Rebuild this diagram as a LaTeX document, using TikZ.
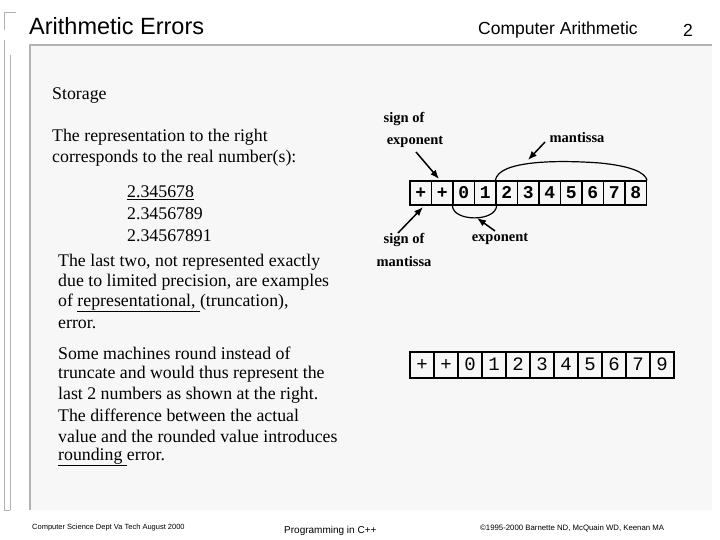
\documentclass[tikz,border=0pt]{standalone}
\usepackage{fontspec}
\usetikzlibrary{arrows.meta}
\setmainfont{Liberation Serif}
\newfontfamily\hel{Liberation Sans}
\newfontfamily\cour{Liberation Mono}
\begin{document}
\begin{tikzpicture}[x=1pt,y=-1pt,
  txt/.style={anchor=west,inner sep=0pt,font=\fontsize{17.8}{18}\selectfont},
  lab/.style={inner sep=0pt,font=\fontsize{14.5}{14}\selectfont\bfseries},
  arr/.style={-{Latex[length=9pt,width=7pt]},line width=1.5pt},
  cellA/.style={draw,line width=1.2pt,minimum width=21.5pt,minimum height=24pt,inner sep=0pt,text height=11pt,font=\cour\bfseries\fontsize{18}{18}\selectfont},
  cellB/.style={draw,line width=1.2pt,minimum width=24pt,minimum height=26pt,inner sep=0pt,text height=11pt,font=\cour\fontsize{19}{19}\selectfont}]
\useasboundingbox (0,0) rectangle (720,540);
\fill[white] (0,0) rectangle (720,540);
% frame
\fill[gray!6] (30,45) rectangle (712,510);
\draw[gray!60,line width=1.2pt] (30,510) -- (30,45) -- (712,45);
\draw[gray!60,line width=1pt] (4,30) |- (16,13);
\draw[gray!60,line width=1pt] (10,510) -- (10,55) (4,510) -- (4,40);
\draw[gray!60,line width=1pt] (4,510) -- (10,510);
% header
\node[anchor=west,inner sep=0pt,font=\hel\fontsize{23.5}{23}\selectfont] (title) at (29,26) {Arithmetic Errors};
\node[anchor=west,inner sep=0pt,font=\hel\fontsize{17.5}{17}\selectfont] (sec) at (478,30) {Computer Arithmetic};
\node[anchor=west,inner sep=0pt,font=\hel\fontsize{17.5}{17}\selectfont] (pg) at (683,30) {2};
% footer
\node[anchor=west,inner sep=0pt,font=\hel\fontsize{7.5}{7}\selectfont] (f1) at (32,528) {Computer Science Dept Va Tech August 2000};
\node[anchor=west,inner sep=0pt,font=\hel\fontsize{10}{10}\selectfont] (f2) at (284,531) {Programming in C++};
\node[anchor=west,inner sep=0pt,font=\hel\fontsize{7.8}{7}\selectfont] (f3) at (480,528) {\textcopyright1995-2000 Barnette ND, McQuain WD, Keenan MA};
% text
\node[txt] (st) at (52,96) {Storage};
\node[txt] (p1) at (52,137) {The representation to the right};
\node[txt] (p2) at (52,158) {corresponds to the real number(s):};
\node[txt] (n1) at (127,193) {\underline{2.345678}};
\node[txt] (n2) at (127,214) {2.3456789};
\node[txt] (n3) at (127,236) {2.34567891};
\node[txt] (q1) at (58,262) {The last two, not represented exactly};
\node[txt] (q2) at (58,282) {due to limited precision, are examples};
\node[txt] (q3) at (58,303) {of \underline{representational, }(truncation),};
\node[txt] (q4) at (58,324) {error.};
\node[txt] (r1) at (58,353) {Some machines round instead of};
\node[txt] (r2) at (58,374) {truncate and would thus represent the};
\node[txt] (r3) at (58,395) {last 2 numbers as shown at the right.};
\node[txt] (r4) at (58,415) {The difference between the actual};
\node[txt] (r5) at (58,436) {value and the rounded value introduces};
\node[txt] (r6) at (58,457) {\underline{rounding }error.};
% rows
\foreach \c [count=\i from 0] in {+,+,0,1,2,3,4,5,6,7,8}
  \node[cellA] (a\i) at ({420.75+21.5*\i},193) {\c};
\foreach \c [count=\i from 0] in {+,+,0,1,2,3,4,5,6,7,9}
  \node[cellB] (b\i) at ({422+24*\i},365) {\c};
% arcs
\draw[line width=1.2pt] (a4.north west) .. controls (498,160) and (560,160) .. (600,163) .. controls (630,166) and (645,172) .. (a10.north east);
\draw[line width=1.2pt] (a2.south west) .. controls (453,222) and (496,222) .. (a3.south east);
% labels
\node[lab] (se1) at (404,119) {sign of};
\node[lab] (se2) at (415,142) {exponent};
\node[lab] (ma) at (577,138) {mantissa};
\node[lab] (sm1) at (404,240) {sign of};
\node[lab] (sm2) at (404,262) {mantissa};
\node[lab] (ex) at (500,239) {exponent};
\coordinate (s1) at (416,152);
\coordinate (t1) at (439,179);
\coordinate (s2) at (545,142);
\coordinate (t2) at (528,160);
\coordinate (s3) at (398,233);
\coordinate (t3) at (423,207);
\coordinate (s4) at (495,231);
\coordinate (t4) at (477,218);
\draw[arr] (s1) -- (t1);
\draw[arr] (s2) -- (t2);
\draw[arr] (s3) -- (t3);
\draw[arr] (s4) -- (t4);
\end{tikzpicture}
\end{document}
